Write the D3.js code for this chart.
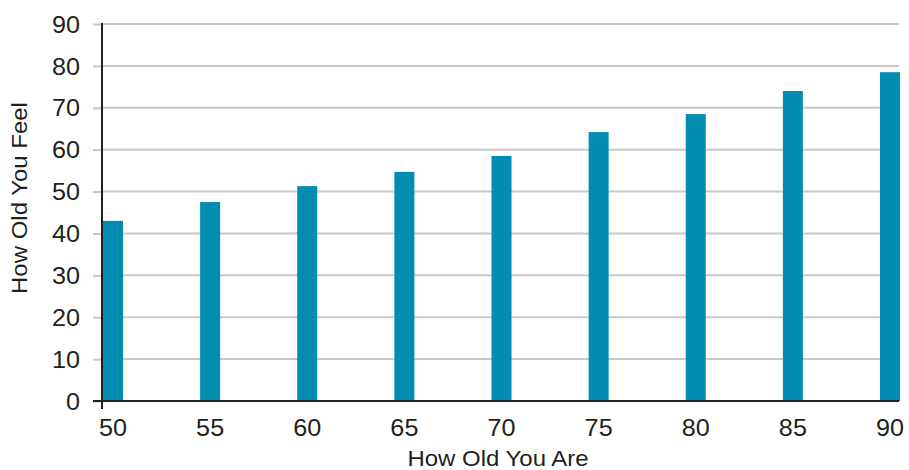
<!DOCTYPE html>
<html>
<head>
<meta charset="utf-8">
<script src="https://cdn.jsdelivr.net/npm/d3@7"></script>
<style>
    body { margin: 0; background: #fff; }
    text { font-family: "Liberation Sans", Arial, sans-serif; fill: #231f20; }
</style>
</head>
<body>
<div id="chart"></div>
<script>
// How old you are vs how old you feel
const ages = [50, 55, 60, 65, 70, 75, 80, 85, 90];
const feelAges = [43.0, 47.5, 51.3, 54.7, 58.5, 64.2, 68.5, 74.0, 78.5];
const yTicks = [0, 10, 20, 30, 40, 50, 60, 70, 80, 90];

const width = 909;
const height = 470;
const barWidth = 20;

const svg = d3.select('#chart')
    .append('svg')
    .attr('width', width)
    .attr('height', height);

const xScale = d3.scaleLinear()
    .domain([50, 90])
    .range([102, 879]);

const yScale = d3.scaleLinear()
    .domain([0, 90])
    .range([401, 24]);

// Grid lines
svg.append('g')
    .selectAll('line')
    .data(yTicks.filter(d => d > 0))
    .join('line')
    .attr('x1', 102)
    .attr('x2', 899)
    .attr('y1', d => yScale(d))
    .attr('y2', d => yScale(d))
    .attr('stroke', '#c8c8c8')
    .attr('stroke-width', 2);

// Bars
svg.append('g')
    .selectAll('rect')
    .data(ages)
    .join('rect')
    .attr('x', d => xScale(d) + 1)
    .attr('y', (d, i) => yScale(feelAges[i]))
    .attr('width', barWidth)
    .attr('height', (d, i) => yScale(0) - yScale(feelAges[i]))
    .attr('fill', '#028cb1');

// Y axis
const yAxis = svg.append('g')
    .attr('transform', `translate(102,0)`)
    .call(d3.axisLeft(yScale).tickValues(yTicks).tickSize(9).tickPadding(12));
yAxis.select('.domain').remove();
yAxis.selectAll('.tick line').attr('stroke', '#c8c8c8').attr('stroke-width', 2);
yAxis.selectAll('.tick text')
    .style('font-size', '24px')
    .attr('dy', '0.34em')
    .attr('transform', 'scale(1.05,1)');

svg.append('line')
    .attr('x1', 102).attr('x2', 102)
    .attr('y1', yScale(90) - 1).attr('y2', 409)
    .attr('stroke', '#231f20')
    .attr('stroke-width', 2);

// X axis
const xAxis = svg.append('g')
    .attr('transform', `translate(0,${yScale(0)})`)
    .call(d3.axisBottom(xScale).tickValues(ages).tickSize(0).tickPadding(0));
xAxis.select('.domain').remove();
xAxis.selectAll('.tick')
    .attr('transform', d => `translate(${xScale(d) + barWidth / 2 + 1},0)`);
xAxis.selectAll('.tick text')
    .style('font-size', '24px')
    .attr('y', 35)
    .attr('dy', null)
    .attr('transform', 'scale(1.05,1)');

svg.append('line')
    .attr('x1', 93).attr('x2', 899)
    .attr('y1', yScale(0)).attr('y2', yScale(0))
    .attr('stroke', '#231f20')
    .attr('stroke-width', 2);

// Axis titles
svg.append('text')
    .attr('transform', 'translate(498,466) scale(1.09,1)')
    .attr('text-anchor', 'middle')
    .style('font-size', '22px')
    .text('How Old You Are');

svg.append('text')
    .attr('transform', 'translate(27,198) rotate(-90) scale(1.09,1)')
    .attr('text-anchor', 'middle')
    .style('font-size', '22px')
    .text('How Old You Feel');
</script>
</body>
</html>
